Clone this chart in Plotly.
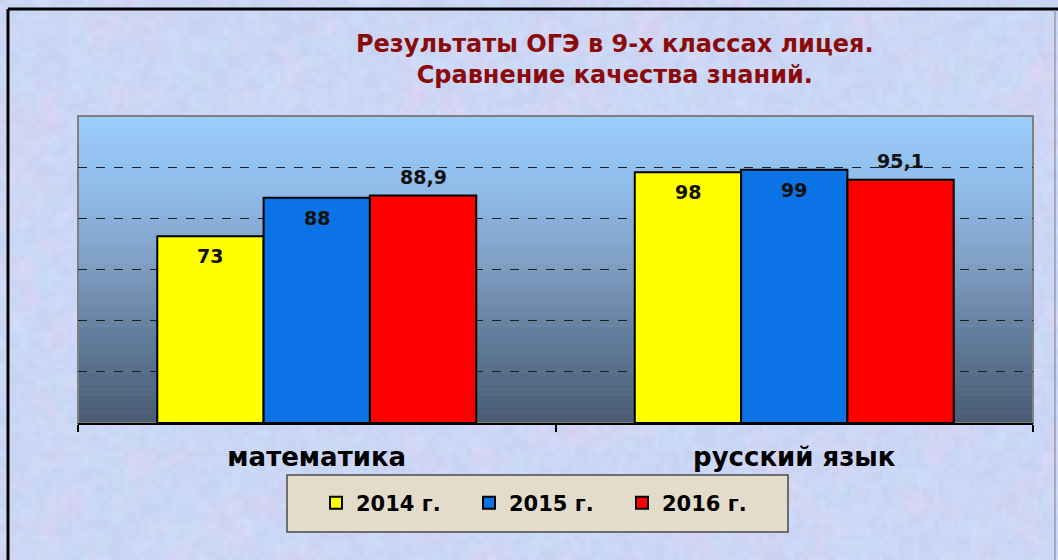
import base64
import struct
import zlib

import plotly.graph_objects as go

# ---- data ----
categories = ["математика", "русский язык"]
series_names = ["2014 г.", "2015 г.", "2016 г."]
values_2014 = [73, 98]
values_2015 = [88, 99]
values_2016 = [88.9, 95.1]
series_values = [values_2014, values_2015, values_2016]
series_colors = ["#FFFF00", "#0B73E6", "#FF0000"]
label_inside = [True, True, False]
title_lines = ["Результаты ОГЭ в 9-х классах лицея.", "Сравнение качества знаний."]

# ---- geometry ----
W, H = 1058, 560
L, R, T, B = 78, 25, 116, 137
PW, PH = W - L - R, H - T - B
BARGAP = 0.332
FONT = "DejaVu Sans"


def px_x(px):
    return (px - L) / PW


def px_y(py):
    return (H - B - py) / PH


# ---- decorative paper texture (pastel mottled background) ----
def _hash(ix, iy, seed):
    h = (ix * 374761393 + iy * 668265263 + seed * 982451653) & 0xFFFFFFFF
    h = ((h ^ (h >> 13)) * 1274126177) & 0xFFFFFFFF
    return ((h ^ (h >> 16)) & 0xFFFF) / 65535.0


def _vnoise(x, y, cell, seed):
    gx, gy = x / cell, y / cell
    ix, iy = int(gx), int(gy)
    fx, fy = gx - ix, gy - iy
    fx, fy = fx * fx * (3 - 2 * fx), fy * fy * (3 - 2 * fy)
    a = _hash(ix, iy, seed)
    b = _hash(ix + 1, iy, seed)
    c = _hash(ix, iy + 1, seed)
    d = _hash(ix + 1, iy + 1, seed)
    return (a + (b - a) * fx) + ((c + (d - c) * fx) - (a + (b - a) * fx)) * fy


def _texture_png(tw, th):
    blue, pink, cyan = (203, 214, 246), (224, 211, 240), (196, 225, 246)
    rows = []
    for y in range(th):
        row = bytearray()
        for x in range(tw):
            n1 = _vnoise(x, y, 6, 1) * 0.6 + _vnoise(x, y, 2.5, 2) * 0.4
            n2 = _vnoise(x, y, 5, 3) * 0.6 + _vnoise(x, y, 2, 4) * 0.4
            g = (_vnoise(x, y, 1.3, 5) - 0.5) * 10
            p = max(0.0, min(1.0, (n1 - 0.45) * 1.8)) * 0.75
            q = max(0.0, min(1.0, (n2 - 0.45) * 1.8)) * 0.6
            col = []
            for k in range(3):
                v = blue[k] + (pink[k] - blue[k]) * p
                v = v + (cyan[k] - v) * q + g
                col.append(max(0, min(255, int(round(v)))))
            row.extend(col)
        rows.append(bytes(row))
    raw = b"".join(b"\x00" + r for r in rows)

    def chunk(t, d):
        return struct.pack(">I", len(d)) + t + d + struct.pack(">I", zlib.crc32(t + d) & 0xFFFFFFFF)

    png = (b"\x89PNG\r\n\x1a\n" + chunk(b"IHDR", struct.pack(">IIBBBBB", tw, th, 8, 2, 0, 0, 0))
           + chunk(b"IDAT", zlib.compress(raw, 9)) + chunk(b"IEND", b""))
    return "data:image/png;base64," + base64.b64encode(png).decode()


fig = go.Figure()
for name, vals, col in zip(series_names, series_values, series_colors):
    fig.add_trace(go.Bar(
        name=name, x=categories, y=vals,
        marker=dict(color=col, line=dict(color="black", width=2)),
        hoverinfo="x+y",
    ))

# value labels
bw = (1 - BARGAP) / len(series_names)
annotations = []
for ti, (vals, inside) in enumerate(zip(series_values, label_inside)):
    for ci, v in enumerate(vals):
        txt = ("%g" % v).replace(".", ",")
        annotations.append(dict(
            x=ci + (ti - 1) * bw, y=v, xref="x", yref="y", text=txt,
            showarrow=False, yshift=(-20 if inside else 19),
            font=dict(family=FONT, size=19, color="#111111", weight="bold"),
        ))

# title
annotations.append(dict(
    x=px_x(615), y=px_y(60), xref="paper", yref="paper", xanchor="center", yanchor="middle",
    text="<br>".join(title_lines), showarrow=False,
    font=dict(family=FONT, size=24, color="#8B0B0B", weight="bold"),
))

shapes = []
# gradient plot background
stops = [(0.0, (74, 91, 115)), (0.25, (94, 120, 150)), (0.5, (126, 156, 192)),
         (0.75, (143, 187, 232)), (1.0, (155, 204, 251))]


def grad(f):
    for (f0, c0), (f1, c1) in zip(stops[:-1], stops[1:]):
        if f0 <= f <= f1:
            t = (f - f0) / (f1 - f0)
            return "rgb(%d,%d,%d)" % tuple(round(a + (b - a) * t) for a, b in zip(c0, c1))
    return "rgb(%d,%d,%d)" % stops[-1][1]


N = 120
for i in range(N):
    y0 = i / N
    y1 = min(1.0, (i + 1) / N + 0.002)
    shapes.append(dict(type="rect", xref="x domain", yref="y domain", x0=0, x1=1, y0=y0, y1=y1,
                       fillcolor=grad((i + 0.5) / N), line=dict(width=0), layer="below"))
# plot area border (grey)
shapes.append(dict(type="rect", xref="x domain", yref="y domain", x0=0, x1=1, y0=0, y1=1,
                   line=dict(color="#7F7F7F", width=2), layer="below"))
# legend box
shapes.append(dict(type="rect", xref="paper", yref="paper",
                   x0=px_x(287), x1=px_x(788), y0=px_y(532), y1=px_y(475),
                   fillcolor="#E4DCCB", line=dict(color="#4A4A4A", width=1.5), layer="below"))
# outer frame
shapes.append(dict(type="line", xref="paper", yref="paper",
                   x0=px_x(8), x1=px_x(8), y0=px_y(9), y1=px_y(H + 5),
                   line=dict(color="black", width=3)))
shapes.append(dict(type="line", xref="paper", yref="paper",
                   x0=px_x(8), x1=px_x(W + 5), y0=px_y(9), y1=px_y(9),
                   line=dict(color="black", width=3)))
shapes.append(dict(type="line", xref="paper", yref="paper",
                   x0=px_x(1055), x1=px_x(1055), y0=px_y(10), y1=px_y(H + 5),
                   line=dict(color="#9A9AAA", width=1.5)))

images = [dict(source=_texture_png(265, 140), xref="paper", yref="paper",
               x=px_x(0), y=px_y(0), sizex=W / PW, sizey=H / PH,
               xanchor="left", yanchor="top", sizing="stretch", layer="below")]

fig.update_layout(
    width=W, height=H,
    margin=dict(l=L, r=R, t=T, b=B, autoexpand=False),
    paper_bgcolor="#D3DAF3",
    plot_bgcolor="rgba(0,0,0,0)",
    barmode="group", bargap=BARGAP, bargroupgap=0,
    showlegend=True,
    legend=dict(orientation="h", x=px_x(316), xanchor="left", y=px_y(503), yanchor="middle",
                bgcolor="rgba(0,0,0,0)", borderwidth=0,
                font=dict(family=FONT, size=21, color="black", weight="bold"),
                entrywidth=108, entrywidthmode="pixels", traceorder="normal"),
    annotations=annotations,
    shapes=shapes,
    images=images,
    xaxis=dict(type="category", showline=True, linecolor="black", linewidth=2,
               ticks="outside", tickson="boundaries", ticklen=7, tickcolor="black", tickwidth=1.5,
               tickfont=dict(family=FONT, size=26, color="black", weight="bold"), ticklabelstandoff=10,
               showgrid=False, fixedrange=True),
    yaxis=dict(range=[0, 120], dtick=20, showticklabels=False, showgrid=True,
               gridcolor="#1E1E1E", griddash="dash", gridwidth=1, zeroline=False,
               ticks="", fixedrange=True),
    font=dict(family=FONT),
)

fig.write_html("out.html", config={"displayModeBar": False},
               post_script="document.body.style.margin='0';")
